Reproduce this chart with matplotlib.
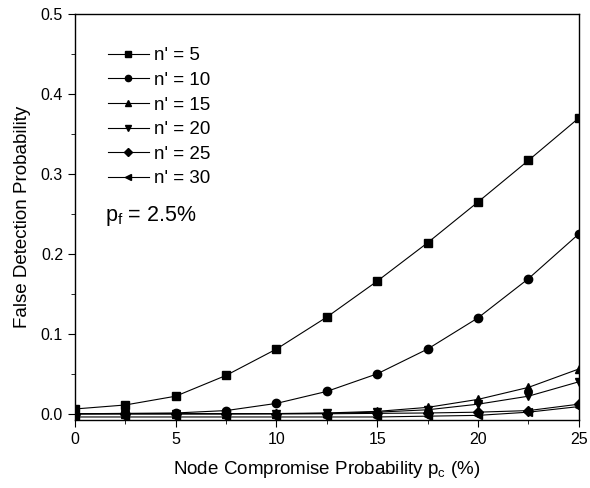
import matplotlib.pyplot as plt
from matplotlib.ticker import MultipleLocator

plt.rcParams['font.family'] = ['Liberation Sans', 'DejaVu Sans']

# node compromise probability (%)
pc = [0, 2.5, 5, 7.5, 10, 12.5, 15, 17.5, 20, 22.5, 25]

# false detection probability for each n'
fd_n5 = [0.006, 0.011, 0.022, 0.048, 0.081, 0.121, 0.166, 0.214, 0.265, 0.317, 0.370]
fd_n10 = [0.0, 0.0005, 0.001, 0.004, 0.013, 0.028, 0.050, 0.081, 0.120, 0.169, 0.225]
fd_n15 = [0.0, 0.0, 0.0, 0.0, 0.0003, 0.001, 0.003, 0.008, 0.018, 0.033, 0.056]
fd_n20 = [0.0, 0.0, 0.0, 0.0, 0.0, 0.0005, 0.002, 0.005, 0.012, 0.022, 0.040]
fd_n25 = [0.0, 0.0, 0.0, 0.0, 0.0, 0.0, 0.0005, 0.001, 0.002, 0.004, 0.012]
fd_n30 = [-0.004, -0.004, -0.004, -0.004, -0.004, -0.004, -0.004, -0.003, -0.002, 0.002, 0.009]

series = [
    (fd_n5, 's', "n' = 5"),
    (fd_n10, 'o', "n' = 10"),
    (fd_n15, '^', "n' = 15"),
    (fd_n20, 'v', "n' = 20"),
    (fd_n25, 'D', "n' = 25"),
    (fd_n30, '<', "n' = 30"),
]

fig = plt.figure(figsize=(5.9, 4.88), dpi=100)
ax = fig.add_axes([0.127, 0.139, 0.854, 0.832])

for vals, mk, lab in series:
    ms = 5 if mk == 'D' else 6
    ax.plot(pc, vals, color='black', linewidth=0.8, marker=mk, markersize=ms,
            label=lab)

ax.set_xlim(0, 25)
ax.set_ylim(-0.008, 0.5)
ax.xaxis.set_major_locator(MultipleLocator(5))
ax.xaxis.set_minor_locator(MultipleLocator(2.5))
ax.yaxis.set_major_locator(MultipleLocator(0.1))
ax.yaxis.set_minor_locator(MultipleLocator(0.05))
ax.yaxis.set_major_formatter(plt.FormatStrFormatter('%.1f'))
ax.tick_params(which='both', direction='out', top=False, right=False,
               labelsize=11.5)
ax.tick_params(which='major', length=5)
ax.tick_params(which='minor', length=3)
for sp in ax.spines.values():
    sp.set_linewidth(1.0)

ax.set_xlabel('Node Compromise Probability p$_\\mathregular{c}$ (%)', fontsize=13.5,
              labelpad=9)
ax.set_ylabel('False Detection Probability', fontsize=13.5, labelpad=7)

ax.legend(loc='upper left', frameon=False, fontsize=13.5, handlelength=2.2,
          handletextpad=0.3, labelspacing=0.4, borderaxespad=0.0,
          markerscale=0.75, bbox_to_anchor=(0.05, 0.937))
ax.text(0.06, 0.49, 'p$_\\mathregular{f}$ = 2.5%', transform=ax.transAxes,
        fontsize=15.5)

fig.savefig('out.png', dpi=100)
